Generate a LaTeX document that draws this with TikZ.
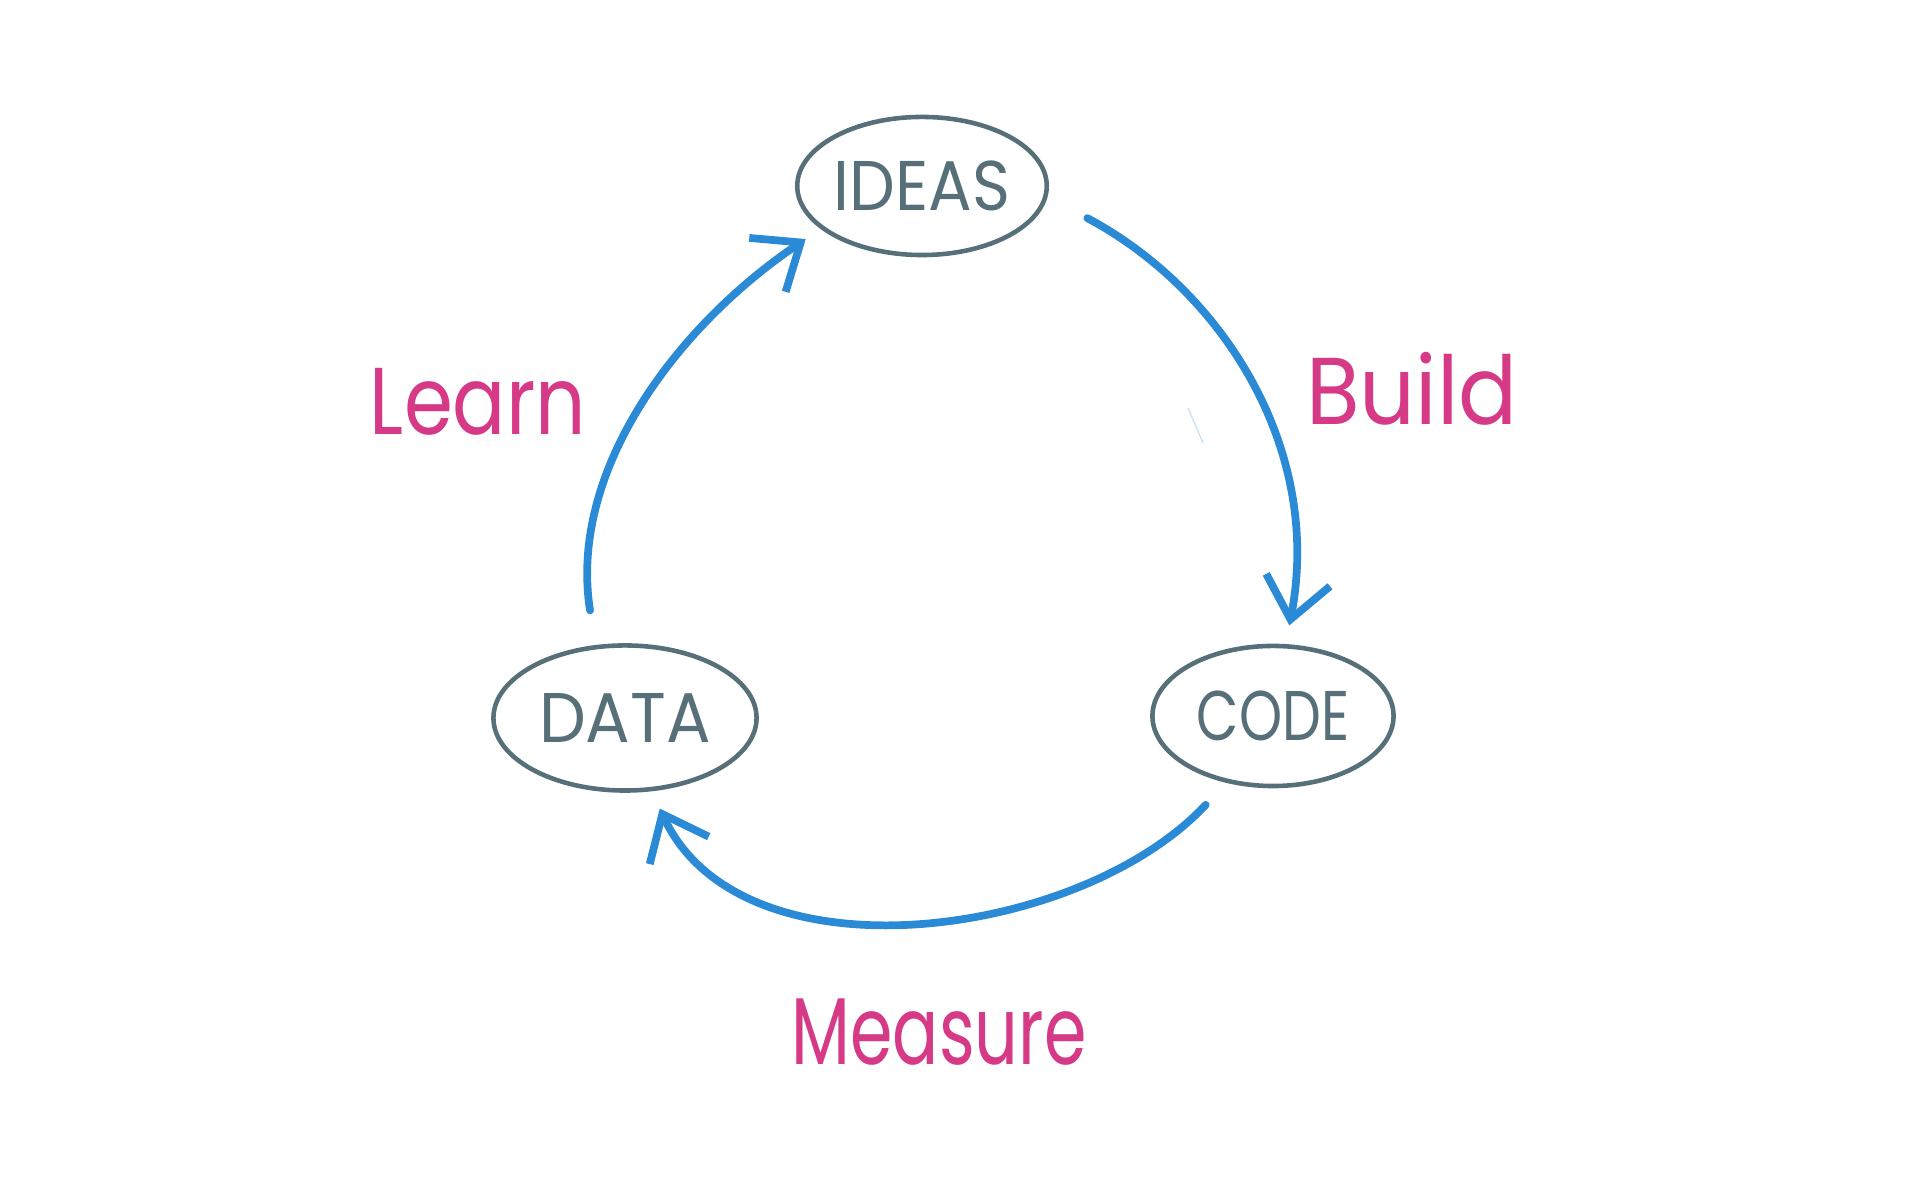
\documentclass[tikz,border=0pt]{standalone}
\usepackage{fontspec}
\setmainfont{Poppins}
\usetikzlibrary{shapes.geometric,arrows.meta}
\definecolor{slate}{HTML}{566F79}
\definecolor{flowblue}{HTML}{2B8AD6}
\definecolor{labelpink}{HTML}{D63A87}
\begin{document}
\begin{tikzpicture}[x=0.01cm,y=0.01cm,
  stage/.style={ellipse, draw=slate, line width=1.3pt, text=slate,
    font=\fontsize{20}{20}\selectfont, inner sep=0pt},
  flow/.style={draw=flowblue, line width=2.2pt, line cap=round, line join=round,
    -{Straight Barb[length=4mm,width=6.5mm]}},
  phase/.style={text=labelpink, font=\fontsize{27}{27}\selectfont}]
\useasboundingbox (0,0) rectangle (1920,1200);

% the three stages of the loop
\node[stage, minimum width=2.49cm, minimum height=1.38cm] (ideas) at (922,1014) {\scalebox{0.92}[1]{IDEAS}};
\node[stage, minimum width=2.63cm, minimum height=1.45cm] (data)  at (625,482)  {\scalebox{0.94}[1]{DATA}};
\node[stage, minimum width=2.41cm, minimum height=1.40cm] (code)  at (1273,484) {\scalebox{0.78}[1]{CODE}};

% arrows between the stages
\draw[flow, shorten <=0.45cm, shorten >=0.19cm]
  (ideas.-5) to[out=-28, in=79] (code.80);
\draw[flow, shorten <=0.30cm, shorten >=0.19cm]
  (code.-125) to[out=-133, in=-65, looseness=0.95] (data.-70);
\draw[flow, shorten <=0.35cm, shorten >=0.18cm]
  (data.112) to[out=99, in=-146, looseness=0.95] (ideas.-157);

% phase labels
\node[phase] (build)   at (1412,811) {\scalebox{0.92}[1]{Build}};
\node[phase] (measure) at (939,168)  {\scalebox{0.72}[1]{Measure}};
\node[phase] (learn)   at (478,798)  {\scalebox{0.83}[1]{Learn}};

% faint stray pen stroke
\draw[flowblue!25, line width=0.4pt] (1188,792) -- (1203,757);
\end{tikzpicture}
\end{document}
